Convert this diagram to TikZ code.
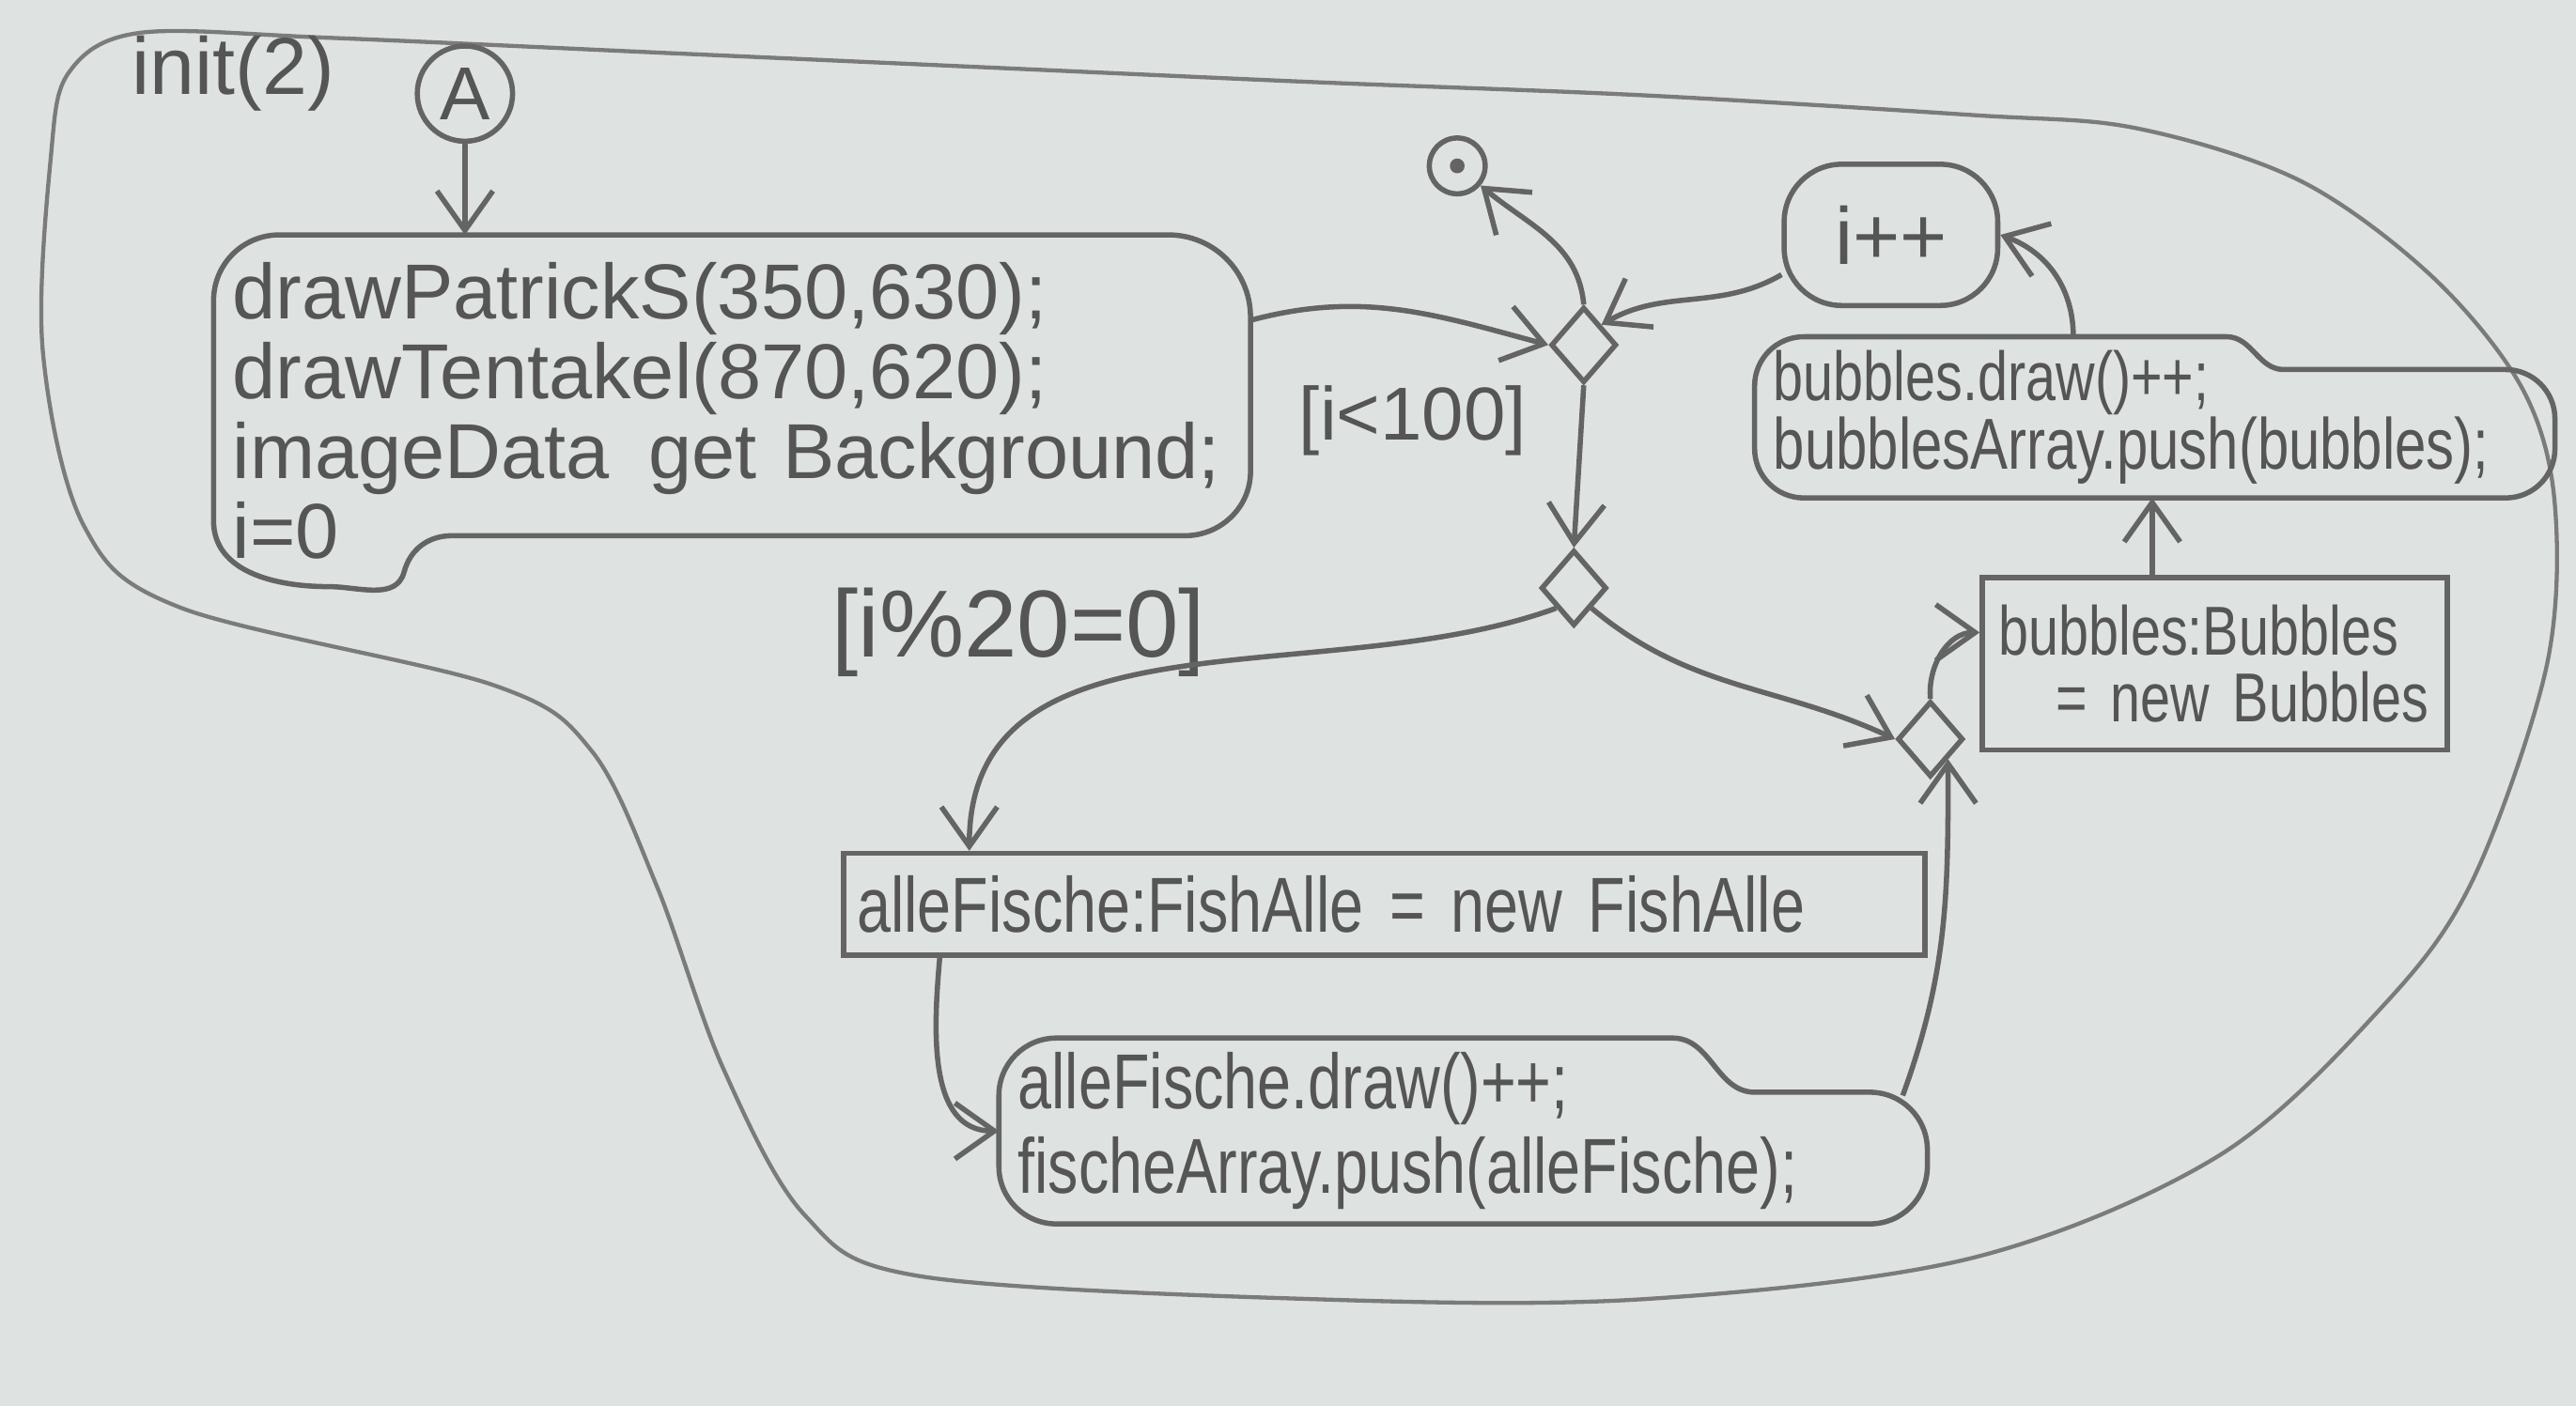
\documentclass[tikz,border=0pt]{standalone}
\usepackage{fontspec}
\setmainfont{Liberation Sans}
\newfontfamily\narrowhand[FakeStretch=0.78]{Liberation Sans}
\usetikzlibrary{arrows.meta,shapes.geometric,positioning}
\definecolor{paper}{RGB}{222,226,225}
\definecolor{pencil}{RGB}{100,100,100}
\definecolor{ink}{RGB}{85,85,85}

\begin{document}
\begin{tikzpicture}[auto, >={Straight Barb[length=2.4mm,width=3.4mm]}, line width=0.9pt,
    txtblock/.style={anchor=north west, align=left, inner xsep=1mm, inner ysep=0pt, text=ink},
    outline/.style={draw=pencil},
    objbox/.style={txtblock, draw=pencil},
    branch/.style={diamond, draw=pencil, minimum width=4mm, minimum height=4.6mm, inner sep=0pt},
    guard/.style={text=ink},
    line/.style={draw=pencil, ->}]

    % paper and activity frame
    \useasboundingbox (0,0) rectangle (15.68,8.56);
    \fill[paper] (0,0) rectangle (15.68,8.56);
    \draw[pencil!85, line width=0.7pt] plot[smooth cycle, tension=0.55] coordinates {
        (0.85,8.36) (2.00,8.33) (4.00,8.24) (6.00,8.15) (8.00,8.06) (10.00,7.98) (12.00,7.86)
        (13.00,7.78) (14.00,7.46) (14.80,6.88) (15.35,6.20) (15.55,5.50) (15.50,4.50)
        (15.05,3.20) (14.50,2.43) (13.50,1.52) (12.00,0.90) (10.00,0.65) (8.00,0.65) (5.60,0.79)
        (4.90,1.16) (4.40,2.06) (4.00,3.16) (3.60,3.99) (3.00,4.39) (1.10,4.86)
        (0.51,5.36) (0.26,6.43) (0.31,7.61) (0.42,8.12)};

    \node [guard, font=\fontsize{14}{14}\selectfont] (initlbl) at (1.42,8.11) {init(2)};
    \node [circle, draw=pencil, minimum size=5.8mm, inner sep=0pt, text=ink, font=\fontsize{13}{13}\selectfont] (startA) at (2.83,7.99) {A};

    % init actions
    \node [txtblock, text width=6.08cm, minimum height=2.11cm, font=\fontsize{13.5}{13.8}\selectfont] (initbox) at (1.30,7.13)
        {drawPatrickS(350,630);\\ drawTentakel(870,620);\\ imageData\enspace get Background;\\ i=0};
    \draw [outline] ([yshift=-4mm]initbox.north west) to[out=90, in=180] ([xshift=4mm]initbox.north west)
        -- ([xshift=-5mm]initbox.north east) to[out=0, in=90] ([yshift=-5mm]initbox.north east)
        -- ([yshift=7mm]initbox.south east) to[out=-90, in=0] ([xshift=-4mm,yshift=3.1mm]initbox.south east)
        -- ([xshift=14.5mm,yshift=3.1mm]initbox.south west) to[out=180, in=75] ([xshift=11.6mm,yshift=0.9mm]initbox.south west)
        to[out=255, in=0] ([xshift=7mm]initbox.south west) to[out=180, in=-90] ([yshift=4mm]initbox.south west) -- cycle;

    % loop
    \node [branch] (merge1) at (9.64,6.46) {};
    \node [circle, draw=pencil, minimum size=3.4mm, inner sep=0pt,
        path picture={\fill[pencil] (path picture bounding box.center) circle (0.45mm);}] (final) at (8.87,7.55) {};
    \node [guard, font=\fontsize{13}{13}\selectfont] (lt100) at (8.60,6.00) {[i<100]};
    \node [draw=pencil, rounded corners=3.5mm, minimum width=1.3cm, minimum height=0.86cm, text=ink, font=\fontsize{14}{14}\selectfont] (incr) at (11.51,7.13) {i++};

    \node [branch] (merge2) at (9.58,4.98) {};
    \node [guard, font=\fontsize{16.5}{16.5}\selectfont] (mod20) at (6.20,4.71) {[i\%20=0]};
    \node [branch] (merge3) at (11.75,4.06) {};

    % bubbles
    \node [objbox, text width=2.63cm, minimum height=1.05cm, font=\narrowhand\fontsize{12}{11.5}\selectfont] (bubnew) at (12.05,5.06)
        {bubbles:Bubbles\\ \hspace*{3.5mm}= new Bubbles};
    \node [txtblock, text width=4.64cm, minimum height=0.95cm, font=\narrowhand\fontsize{12.5}{12}\selectfont] (bubdraw) at (10.68,6.51)
        {{\fontsize{12}{12}\selectfont bubbles.draw()++;}\\ bubblesArray.push(bubbles);};
    \draw [outline] ([yshift=-3mm]bubdraw.north west) to[out=90, in=180] ([xshift=3mm]bubdraw.north west)
        -- ([xshift=-2.0cm]bubdraw.north east) to[out=0, in=180] ([xshift=-1.65cm,yshift=-2mm]bubdraw.north east)
        -- ([xshift=-3mm,yshift=-2mm]bubdraw.north east) to[out=0, in=90] ([yshift=-5mm]bubdraw.north east)
        -- ([yshift=3mm]bubdraw.south east) to[out=-90, in=0] ([xshift=-3mm]bubdraw.south east)
        -- ([xshift=3mm]bubdraw.south west) to[out=180, in=-90] ([yshift=3mm]bubdraw.south west) -- cycle;

    % fish
    \node [objbox, text width=6.42cm, inner xsep=0.8mm, minimum height=0.62cm, font=\narrowhand\fontsize{13.5}{13.5}\selectfont] (fishnew) at (5.12,3.38)
        {alleFische:FishAlle = new FishAlle};
    \node [txtblock, text width=5.42cm, minimum height=1.10cm, font=\narrowhand\fontsize{13.5}{14.7}\selectfont] (fishpush) at (6.08,2.24)
        {alleFische.draw()++;\\ fischeArray.push(alleFische);};
    \draw [outline] ([yshift=-3.5mm]fishpush.north west) to[out=90, in=180] ([xshift=3.5mm]fishpush.north west)
        -- ([xshift=-1.55cm]fishpush.north east) to[out=0, in=180] ([xshift=-1.05cm,yshift=-3.3mm]fishpush.north east)
        -- ([xshift=-3.5mm,yshift=-3.3mm]fishpush.north east) to[out=0, in=90] ([yshift=-6.8mm]fishpush.north east)
        -- ([yshift=3.5mm]fishpush.south east) to[out=-90, in=0] ([xshift=-3.5mm]fishpush.south east)
        -- ([xshift=3.5mm]fishpush.south west) to[out=180, in=-90] ([yshift=3.5mm]fishpush.south west) -- cycle;

    \path [line] (startA) -- (startA |- initbox.north);
    \path [line] ([yshift=-5.2mm]initbox.north east) to[out=15, in=165] (merge1.west);
    \path [line] (merge1.north) to[out=95, in=-40] (final);
    \path [line] (incr.200) to[out=210, in=30] (merge1.north east);
    \path [line] ([xshift=1.94cm]bubdraw.north west) to[out=90, in=-20] (incr.east);
    \path [line] ([xshift=1.05cm]bubnew.north west) -- ([xshift=1.05cm]bubnew.north west |- bubdraw.south);
    \path [line] (merge1.south) -- (merge2.north);
    \path [line] (merge2.south east) to[out=-40, in=155] (merge3.west);
    \path [line] (merge2.south west) to[out=200, in=90] ([xshift=7.8mm]fishnew.north west);
    \path [line] ([xshift=6mm]fishnew.south west) to[out=-95, in=180] (fishpush.west);
    \path [line] ([xshift=-1.5mm,yshift=-3.5mm]fishpush.north east) to[out=70, in=-90] (merge3.south east);
    \path [line] (merge3.north) to[out=95, in=180] ([yshift=1.9mm]bubnew.west);
\end{tikzpicture}
\end{document}
